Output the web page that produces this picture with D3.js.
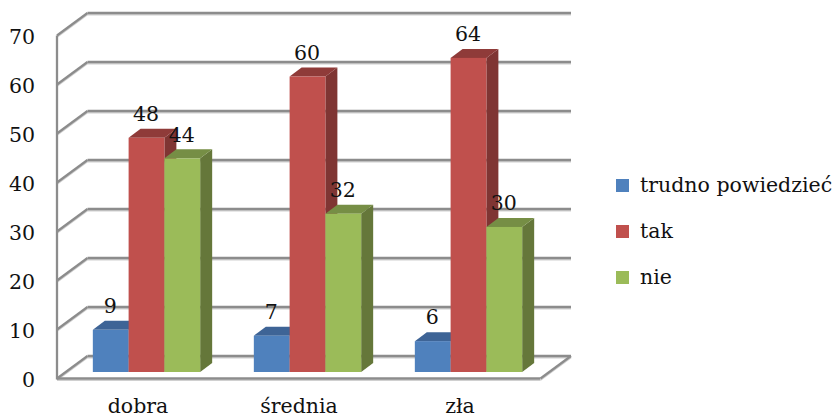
<!DOCTYPE html>
<html><head><meta charset="utf-8">
<script src="https://cdnjs.cloudflare.com/ajax/libs/d3/7.8.5/d3.min.js"></script>
<style>html,body{margin:0;padding:0;background:#fff}svg{display:block}text{font-family:"DejaVu Serif",serif;fill:#111}</style>
</head><body><svg id="c" width="833" height="418"></svg>
<script>
const categories=["dobra","średnia","zła"];
const seriesNames=["trudno powiedzieć","tak","nie"];
const trudno=[8.6,7.4,6.3];
const tak=[47.8,60.3,64.1];
const nie=[43.6,32.3,29.6];
const yTicks=[0,10,20,30,40,50,60,70];
const faceColors=["#4F81BD","#C0504D","#9BBB59"];
const sideColors=["#3A5F8C","#7F3533","#65773A"];
const topColors=["#3E6496","#8F3B39","#768E45"];
const seriesValues=[trudno,tak,nie];

const svg=d3.select("#c");
const y=d3.scaleLinear().domain([0,70]).range([378.5,35.5]);
const yBar=d3.scaleLinear().domain([0,70]).range([372,29]);
const x=d3.scaleBand().domain(categories).range([66,549]).paddingInner(1/3).paddingOuter(1/6);
const xs=d3.scaleBand().domain(d3.range(3)).range([0,x.bandwidth()]);
const dx=30.5,dy=22.5,bdx=12,bdy=9,gridRight=571,wallX=57;
const gray="#8c8c8c",shadow="#d0d0d0";

const grid=svg.append("g");
function seg(g,x1,y1,x2,y2){
  g.append("line").attr("x1",x1).attr("y1",y1+1.8).attr("x2",x2).attr("y2",y2+1.8).attr("stroke",shadow).attr("stroke-width",1.4);
  g.append("line").attr("x1",x1).attr("y1",y1).attr("x2",x2).attr("y2",y2).attr("stroke",gray).attr("stroke-width",2.3);
}
yTicks.forEach(t=>{
  seg(grid,wallX+dx,y(t)-dy,gridRight,y(t)-dy);
  seg(grid,wallX,y(t),wallX+dx,y(t)-dy);
});
seg(grid,wallX,y(0),gridRight-dx,y(0));
seg(grid,gridRight-dx,y(0),gridRight,y(0)-dy);
grid.append("line").attr("x1",wallX).attr("x2",wallX).attr("y1",y(70)).attr("y2",y(0)+1).attr("stroke",gray).attr("stroke-width",2.3);

const bars=svg.append("g");
seriesValues.forEach((vals,s)=>{
  vals.forEach((v,i)=>{
    const l=x(categories[i])+xs(s),w=xs.bandwidth(),t=yBar(v),b=yBar(0);
    const g=bars.append("g");
    g.append("path").attr("fill",sideColors[s]).attr("d",d3.line()([[l+w,t],[l+w+bdx,t-bdy],[l+w+bdx,b-bdy],[l+w,b]])+"Z");
    g.append("path").attr("fill",topColors[s]).attr("d",d3.line()([[l,t],[l+bdx,t-bdy],[l+w+bdx,t-bdy],[l+w,t]])+"Z");
    g.append("rect").attr("x",l).attr("y",t).attr("width",w).attr("height",b-t).attr("fill",faceColors[s]);
  });
});

const fs=20.5;
const labels=svg.append("g").attr("font-size",fs).attr("text-anchor","middle");
seriesValues.forEach((vals,s)=>vals.forEach((v,i)=>{
  labels.append("text").attr("x",x(categories[i])+xs(s)+xs.bandwidth()/2-0.5).attr("y",yBar(v)-16.8).text(d3.format(".0f")(v));
}));

const yAxis=svg.append("g").attr("transform","translate(35,0)").call(d3.axisLeft(y).tickValues(yTicks).tickSize(0).tickPadding(0));
yAxis.select(".domain").remove();
yAxis.attr("font-family",null).attr("font-size",null);
yAxis.selectAll("text").attr("font-size",fs).attr("dy",null).attr("y",7.5).attr("text-anchor","end");
const xAxis=svg.append("g").attr("transform","translate(-8.5,394)").call(d3.axisBottom(x).tickSize(0).tickPadding(0));
xAxis.select(".domain").remove();
xAxis.attr("font-family",null).attr("font-size",null);
xAxis.selectAll("text").attr("font-size",fs).attr("dy",null).attr("y",19);
svg.selectAll(".tick text").attr("fill",null);

const legend=svg.append("g");
const legY=d3.scalePoint().domain(seriesNames).range([179,271]);
seriesNames.forEach((n,s)=>{
  legend.append("rect").attr("x",616).attr("y",legY(n)).attr("width",13).attr("height",13).attr("fill",faceColors[s]);
  legend.append("text").attr("x",640).attr("y",legY(n)+13).attr("font-size",fs).text(n);
});
</script></body></html>
